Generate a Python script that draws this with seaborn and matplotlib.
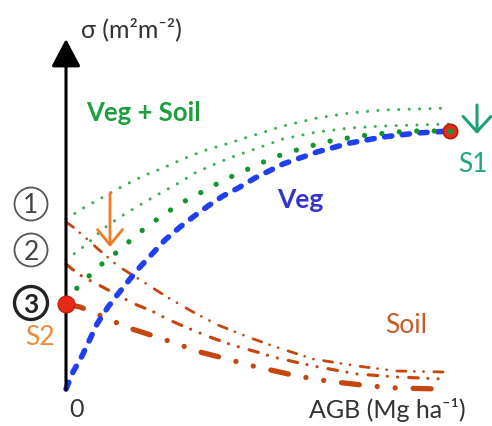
import matplotlib
matplotlib.use("Agg")
import matplotlib.pyplot as plt
import seaborn as sns
import pandas as pd
from matplotlib.patches import Circle

# ---- data (conceptual units: AGB along x, sigma along y) ----
veg_agb = [0, 7, 16, 24, 31, 42, 52, 64, 74, 86, 99, 114, 127, 142, 157, 174, 189, 217, 251, 284, 317, 351, 384]
veg_sig = [0, 17, 33, 50, 65, 82, 95, 110, 122, 135, 149, 162, 172, 183, 193, 202, 211, 225, 237, 246, 252, 256, 258]

vs1_agb = [0, 19, 39, 57, 77, 97, 117, 137, 157, 179, 217, 251, 284, 317, 351, 384]
vs1_sig = [170, 182, 193, 203, 213, 221, 230, 238, 244, 251, 263, 271, 276, 279, 280, 281]

vs2_agb = [0, 21, 37, 54, 74, 91, 111, 129, 149, 169, 189, 217, 251, 284, 317, 351, 384]
vs2_sig = [129, 145, 160, 172, 184, 194, 205, 216, 225, 233, 240, 250, 257, 261, 263, 264, 265]

vs3_agb = [0, 11, 24, 37, 51, 65, 79, 93, 109, 124, 140, 156, 173, 189, 206, 224, 241, 259, 276, 294, 312, 331, 347, 366, 384]
vs3_sig = [87, 101, 114, 126, 137, 149, 161, 171, 182, 191, 199, 208, 216, 223, 231, 237, 242, 247, 250, 253, 255, 257, 258, 258, 258]

soil1_agb = [0, 7, 21, 32, 52, 76, 101, 127, 152, 182, 207, 247, 291, 331, 377]
soil1_sig = [167, 162, 150, 140, 123, 108, 92, 77, 64, 52, 43, 30, 23, 18, 17]

soil2_agb = [0, 6, 17, 31, 44, 59, 71, 86, 101, 117, 141, 166, 191, 207, 247, 291, 331, 377]
soil2_sig = [125, 120, 112, 105, 98, 90, 84, 78, 70, 63, 53, 44, 37, 32, 23, 15, 12, 10]

soil3_agb = [0, 14, 31, 49, 66, 91, 117, 134, 161, 187, 231, 261, 304, 331, 374]
soil3_sig = [85, 82, 75, 67, 60, 52, 43, 37, 30, 23, 13, 8, 3, 1, 0]

s1_point = (384, 258)
s2_point = (0, 85)
level_labels = ["1", "2", "3"]
level_sig = [185, 139, 86]

# ---- style ----
sns.set_theme(style="white")
plt.rcParams["font.family"] = ["Lato", "DejaVu Sans"]

fig = plt.figure(figsize=(4.92, 4.27), dpi=100)
ax = fig.add_axes([0, 0, 1, 1])
ax.set_xlim(-66, 426)
ax.set_ylim(-37, 390)
ax.set_axis_off()

blue = "#1f3ff0"
green_s = "#3aae55"
green_b = "#12952e"
soil_c = "#c4470f"

def line(x, y, color, lw, ls, z):
    sns.lineplot(x=x, y=y, ax=ax, color=color, linewidth=lw, linestyle=ls,
                 dash_capstyle="round", solid_capstyle="round",
                 errorbar=None, sort=False, zorder=z)

# soil curves (dash-dot-dot)
line(soil1_agb, soil1_sig, soil_c, 2.0, (0, (3.3, 3.0, 0.01, 3.3, 0.01, 3.7)), 3)
line(soil2_agb, soil2_sig, soil_c, 2.3, (0, (3.0, 3.0, 0.01, 3.2, 0.01, 3.5)), 3)
line(soil3_agb, soil3_sig, soil_c, 3.8, (0, (3.4, 3.4, 0.01, 3.4, 0.01, 3.4)), 3)

# veg + soil curves (dotted)
line(vs1_agb, vs1_sig, green_s, 2.2, (0, (0.01, 3.4)), 4)
line(vs2_agb, vs2_sig, green_s, 2.2, (0, (0.01, 3.4)), 4)
line(vs3_agb, vs3_sig, green_b, 3.8, (0, (0.01, 3.3)), 5)

# veg curve (dashed)
line(veg_agb, veg_sig, blue, 4.0, (0, (1.3, 1.9)), 4)

# axes arrows
ax.annotate("", xy=(0, 350), xytext=(0, -1),
            arrowprops=dict(arrowstyle="-|>,head_length=0.85,head_width=0.45",
                            lw=2.2, color="black", mutation_scale=20,
                            shrinkA=0, shrinkB=0), zorder=6)
ax.annotate("", xy=(431, 0), xytext=(-1, 0),
            arrowprops=dict(arrowstyle="-|>,head_length=0.85,head_width=0.45",
                            lw=2.2, color="black", mutation_scale=20,
                            shrinkA=0, shrinkB=0), zorder=6)

# red points
ax.scatter([s1_point[0]], [s1_point[1]], s=110, color="#e52b18", edgecolor="#a81a10",
           linewidth=1.0, zorder=7)
ax.scatter([s1_point[0]], [s1_point[1]], s=10, color=green_b, zorder=8)
ax.scatter([s2_point[0]], [s2_point[1]], s=150, color="#e52b18", edgecolor="#c01a10",
           linewidth=0.8, zorder=7)

# arrows
ax.annotate("", xy=(44, 142), xytext=(44, 196),
            arrowprops=dict(arrowstyle="->,head_length=0.55,head_width=0.45",
                            lw=2.0, color="#f27a22", mutation_scale=20,
                            shrinkA=0, shrinkB=0), zorder=8)
ax.annotate("", xy=(411, 255), xytext=(411, 284),
            arrowprops=dict(arrowstyle="->,head_length=0.55,head_width=0.5",
                            lw=2.2, color="#1fa07a", mutation_scale=20,
                            shrinkA=0, shrinkB=0), zorder=8)

# circled level markers
for i, (lab, yv) in enumerate(zip(level_labels, level_sig)):
    bold = (i == 2)
    ax.add_patch(Circle((-35, yv), 16.5, fill=False,
                        edgecolor="#222222" if bold else "#555555",
                        lw=2.4 if bold else 1.3, zorder=6))
    ax.text(-35, yv - 1, lab, ha="center", va="center", fontsize=19,
            color="#222222" if bold else "#444444",
            fontweight="bold" if bold else "normal", zorder=7)

# texts
ax.text(65, 361, "σ (m²m⁻²)", ha="center", va="center", fontsize=18, color="#333333")
ax.text(77, 277, "Veg + Soil", ha="center", va="center", fontsize=18.5,
        fontweight="bold", color="#1e9e3e")
ax.text(234, 190, "Veg", ha="center", va="center", fontsize=19,
        fontweight="bold", color="#3535cc")
ax.text(340, 64, "Soil", ha="center", va="center", fontsize=19, color="#c85a28")
ax.text(407, 226, "S1", ha="center", va="center", fontsize=19, color="#20a682")
ax.text(-26, 52, "S2", ha="center", va="center", fontsize=19, color="#f08a3c")
ax.text(11, -20, "0", ha="center", va="center", fontsize=18, color="#333333")
ax.text(321, -20, "AGB (Mg ha⁻¹)", ha="center", va="center", fontsize=18, color="#333333")

fig.savefig("out.png", dpi=100)
